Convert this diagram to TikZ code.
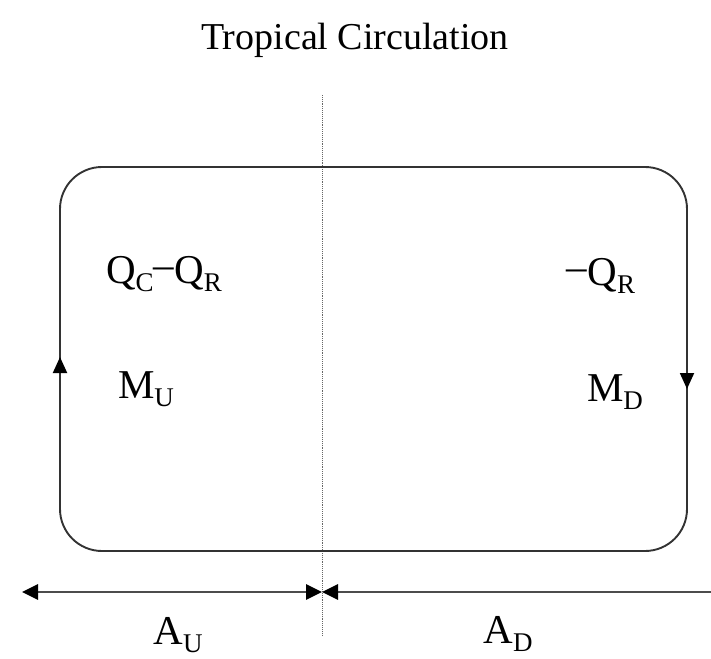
\documentclass[tikz,border=0pt]{standalone}
\usepackage{fontspec}
\setmainfont{Liberation Serif}
\usetikzlibrary{arrows.meta}

\newcommand{\lowsub}[1]{\raisebox{-0.45ex}{\fontsize{27}{30}\selectfont #1}}

\tikzset{
  lbl/.style={font=\fontsize{41}{44}\selectfont, inner sep=0pt},
  loopline/.style={line width=1.9pt, draw=black!80},
  flowtip/.style={-{Triangle[length=16pt,width=14pt,color=black]}, line width=1.9pt, draw=black!80},
  spanline/.style={line width=2.8pt, draw=black!70},
  bothtips/.style={{Triangle[length=16pt,width=15pt,color=black]}-{Triangle[length=16pt,width=15pt,color=black]}},
  lefttip/.style={{Triangle[length=16pt,width=15pt,color=black]}-},
}

\begin{document}
\begin{tikzpicture}[x=1pt, y=-1pt]
    \useasboundingbox (0,0) rectangle (711,658);
    % Titel
    \node[font=\fontsize{38}{42}\selectfont] (title) at (355,40) {Tropical Circulation};

    % Trennlinie zwischen Aufstieg und Abstieg
    \coordinate (divtop) at (322,95);
    \coordinate (divbot) at (322,636);
    \draw[densely dotted, line width=0.9pt, black!60] (divtop) -- (divbot);

    % Zirkulationszelle
    \draw[loopline, rounded corners=42pt] (60,167) rectangle (687,551);
    \coordinate (upA) at (60,390);
    \coordinate (upB) at (60,357);
    \coordinate (dnA) at (687,350);
    \coordinate (dnB) at (687,389);
    \draw[flowtip] (upA) -- (upB);
    \draw[flowtip] (dnA) -- (dnB);

    % Beschriftungen
    \node[lbl] (qcr) at (164,274) {Q\lowsub{C}\raisebox{0.25ex}{–}Q\lowsub{R}};
    \node[lbl] (qr)  at (601,276) {\raisebox{0.25ex}{–}Q\lowsub{R}};
    \node[lbl] (mu)  at (146,389) {M\lowsub{U}};
    \node[lbl] (md)  at (615,392) {M\lowsub{D}};

    % Flaechen unten
    \coordinate (spanL) at (22,592);
    \coordinate (spanM) at (322,592);
    \coordinate (spanR) at (711,592);
    \draw[spanline, bothtips] (spanL) -- (spanM);
    \draw[spanline, lefttip] (spanM) -- (spanR);
    \node[lbl] (au) at (178,635) {A\lowsub{U}};
    \node[lbl] (ad) at (508,634) {A\lowsub{D}};
\end{tikzpicture}
\end{document}
